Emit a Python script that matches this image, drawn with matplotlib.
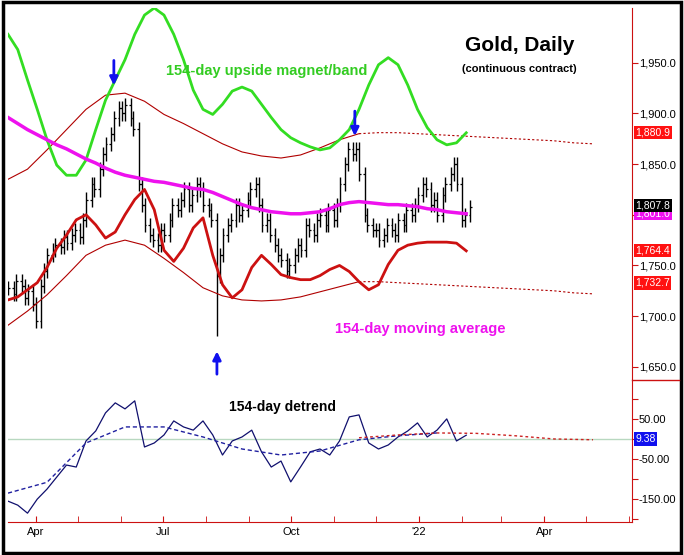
import matplotlib
matplotlib.use("Agg")
import matplotlib.pyplot as plt
import matplotlib.dates as mdates
import pandas as pd

# daily closes, sampled every 2 trading days from 2021-03-12
closes = [1728, 1722, 1735, 1730, 1718, 1725, 1712, 1695, 1730, 1745,
          1760, 1765, 1770, 1768, 1778, 1772, 1780, 1785, 1778, 1795,
          1815, 1830, 1825, 1845, 1860, 1870, 1880, 1895, 1905, 1900,
          1908, 1895, 1885, 1830, 1810, 1790, 1780, 1775, 1770, 1785,
          1780, 1795, 1810, 1805, 1815, 1825, 1810, 1820, 1830, 1825,
          1810, 1805, 1795, 1740, 1760, 1780, 1790, 1795, 1810, 1800,
          1805, 1815, 1825, 1830, 1810, 1790, 1795, 1780, 1770, 1760,
          1755, 1745, 1750, 1760, 1770, 1765, 1790, 1785, 1780, 1795,
          1800, 1790, 1805, 1795, 1810, 1830, 1850, 1865, 1860, 1865,
          1840, 1800, 1790, 1785, 1785, 1775, 1780, 1790, 1785, 1780,
          1795, 1790, 1805, 1800, 1810, 1820, 1830, 1825, 1810, 1815,
          1800, 1820, 1830, 1840, 1850, 1830, 1795, 1800, 1808]
spike_lows = {7: 1688, 53: 1680}

# weekly curves from 2021-03-12
magnet = [1978, 1963, 1933, 1904, 1874, 1849, 1839, 1839, 1854, 1884, 1913, 1933,
          1953, 1978, 1997, 2004, 1997, 1978, 1953, 1923, 1904, 1899, 1909, 1922,
          1926, 1922, 1909, 1896, 1884, 1876, 1871, 1867, 1864, 1866, 1874, 1884,
          1904, 1928, 1948, 1955, 1948, 1928, 1904, 1886, 1874, 1869, 1871, 1880.9]
cycle = [1716, 1719, 1726, 1733, 1748, 1767, 1780, 1795, 1800, 1790, 1777, 1783,
         1800, 1815, 1825, 1805, 1765, 1754, 1767, 1787, 1797, 1760, 1731, 1718,
         1726, 1748, 1760, 1751, 1741, 1738, 1736, 1736, 1740, 1746, 1750, 1744,
         1734, 1726, 1731, 1751, 1765, 1770, 1772, 1773, 1773, 1773, 1772, 1764.4]
ma154 = [1896, 1890, 1884, 1879, 1874, 1869, 1865, 1860, 1855, 1851, 1846, 1842,
         1839, 1837, 1835, 1833, 1832, 1830, 1828, 1826, 1825, 1822, 1818, 1814,
         1810, 1807, 1805, 1803, 1802, 1801, 1801, 1802, 1803, 1806, 1810, 1812,
         1813, 1812, 1811, 1810, 1810, 1809, 1808, 1806, 1805, 1803, 1802, 1801]
detrend = [-155, -165, -185, -150, -125, -95, -65, -70, -5, 20, 65, 90,
           75, 95, -20, -10, 10, 45, 30, 22, 45, 10, -40, -5,
           5, 22, -32, -70, -55, -107, -70, -32, -25, -40, -5, 55,
           60, -10, -25, -15, 5, 20, 40, 5, 22, 50, -5, 9.38]

# 2-weekly envelope, solid through index 18 then projected
env_upper = [1835, 1845, 1864, 1884, 1904, 1918, 1920, 1912, 1899, 1890, 1880, 1870,
             1862, 1858, 1856, 1859, 1866, 1874, 1880, 1881, 1881, 1880, 1879, 1878,
             1877, 1876, 1875, 1874, 1873, 1871, 1870]
env_lower = [1691, 1705, 1721, 1740, 1760, 1770, 1775, 1770, 1757, 1743, 1728, 1720,
             1716, 1715, 1716, 1719, 1724, 1729, 1734, 1734, 1733, 1732, 1731, 1730,
             1729, 1728, 1727, 1726, 1725, 1723, 1722]
SOLID = 19

# 4-weekly smoothed detrend and its projection
detrend_smooth = [-135, -108, -10, 30, 30, 5, -25, -40, -30, -2, 8, 15]
detrend_proj = [3, 10, 15, 14, 8, 0, -2]

d_bars = pd.bdate_range("2021-03-12", periods=len(closes), freq="2B")
d_week = pd.date_range("2021-03-12", periods=len(magnet), freq="7D")
d_env = pd.date_range("2021-03-12", periods=len(env_upper), freq="14D")
d_4w = pd.date_range("2021-03-12", periods=16, freq="28D")

fig = plt.figure(figsize=(6.84, 5.55), dpi=100)
fig.patch.set_facecolor("white")
fig.add_artist(plt.Rectangle((0.004, 0.004), 0.992, 0.992, transform=fig.transFigure,
                             fill=False, ec="black", lw=2.5))
fig.add_artist(plt.Line2D([632 / 684, 679 / 684], [1 - 380 / 555] * 2,
                          color="#cc1111", lw=1))
L, R = 8 / 684, 632 / 684
ax = fig.add_axes([L, 1 - 380 / 555, R - L, (380 - 8) / 555])
ax2 = fig.add_axes([L, 1 - 522 / 555, R - L, (522 - 380) / 555], sharex=ax)

# price bars
prev = closes[0]
for i, (d, c) in enumerate(zip(d_bars, closes)):
    lo = spike_lows.get(i, min(prev, c) - 7)
    hi = max(prev, c) + 7
    x = mdates.date2num(d)
    ax.vlines(x, lo, hi, color="black", lw=1.0)
    ax.hlines(prev, x - 1.3, x, color="black", lw=0.9)
    ax.hlines(c, x, x + 1.3, color="black", lw=0.9)
    prev = c

ax.plot(d_env[:SOLID], env_upper[:SOLID], color="#b00000", lw=0.8)
ax.plot(d_env[:SOLID], env_lower[:SOLID], color="#b00000", lw=0.8)
ax.plot(d_env[SOLID - 1:], env_upper[SOLID - 1:], color="#b00000", lw=0.8, ls=(0, (2, 2)))
ax.plot(d_env[SOLID - 1:], env_lower[SOLID - 1:], color="#b00000", lw=0.8, ls=(0, (2, 2)))
ax.plot(d_week, magnet, color="#33dd22", lw=2)
ax.plot(d_week, ma154, color="#ee11ee", lw=2.5)
ax.plot(d_week, cycle, color="#cc1111", lw=2)

# arrows
for d, y0, y1 in [("2021-05-27", 1955, 1925), ("2021-11-16", 1905, 1875)]:
    ax.annotate("", xy=(pd.Timestamp(d), y1), xytext=(pd.Timestamp(d), y0),
                arrowprops=dict(arrowstyle="-|>", color="#1010ee", lw=2, mutation_scale=12))
ax.annotate("", xy=(pd.Timestamp("2021-08-09"), 1668), xytext=(pd.Timestamp("2021-08-09"), 1640),
            arrowprops=dict(arrowstyle="-|>", color="#1010ee", lw=2, mutation_scale=12))

ax.text(0.82, 0.885, "Gold, Daily", transform=ax.transAxes, ha="center", fontsize=15,
        fontweight="bold", family="Liberation Sans")
ax.text(0.82, 0.828, "(continuous contract)", transform=ax.transAxes, ha="center",
        fontsize=8, fontweight="bold", family="Liberation Sans")
ax.text(0.415, 0.82, "154-day upside magnet/band", transform=ax.transAxes, ha="center",
        fontsize=10.5, fontweight="bold", color="#33cc22", family="Liberation Sans")
ax.text(0.66, 0.125, "154-day moving average", transform=ax.transAxes, ha="center",
        fontsize=10.5, fontweight="bold", color="#ee11ee", family="Liberation Sans")

ax.set_ylim(1637, 2004)
ax.set_yticks([1650, 1700, 1750, 1800, 1850, 1900, 1950])
ax.set_yticklabels(["1,650.0", "1,700.0", "1,750.0", "", "1,850.0", "1,900.0", "1,950.0"])


def tag(a, y, txt, bg, fg="white"):
    a.annotate(txt, xy=(1.005, y), xycoords=("axes fraction", "data"), va="center",
               fontsize=7.5, color=fg, family="Liberation Sans",
               bbox=dict(boxstyle="square,pad=0.15", fc=bg, ec="none"),
               annotation_clip=False)


tag(ax, 1880.9, "1,880.9", "#ff1111")
tag(ax, 1801.0, "1,801.0", "#ee11ee")
tag(ax, 1809.0, "1,807.8", "black")
tag(ax, 1764.4, "1,764.4", "#ff1111")
tag(ax, 1732.7, "1,732.7", "#ff1111")

# detrend panel
ax2.axhline(0, color="#b8d8c0", lw=1)
ax2.plot(d_week, detrend, color="#10106e", lw=0.9)
ax2.plot(d_4w[:len(detrend_smooth)], detrend_smooth, color="#2020a0", lw=1, ls=(0, (3, 2)))
ax2.plot(d_4w[9:], detrend_proj, color="#cc2222", lw=1, ls=(0, (2, 2)))
ax2.text(0.44, 0.78, "154-day detrend", transform=ax2.transAxes, ha="center",
         fontsize=10, fontweight="bold", family="Liberation Sans")
ax2.set_ylim(-207, 147)
ax2.set_yticks([100, 50, 0, -50, -100, -150, -200])
ax2.set_yticklabels(["", "50.00", "", "-50.00", "", "-150.00", ""])
tag(ax2, 0, "9.38", "#1010ee")

for a in (ax, ax2):
    a.yaxis.tick_right()
    for s in ("left", "top"):
        a.spines[s].set_visible(False)
    a.spines["right"].set_color("#cc1111")
    a.spines["bottom"].set_color("#cc1111")
    a.tick_params(axis="y", colors="#cc1111", labelcolor="black", labelsize=8, length=4,
                  direction="out", pad=1)
    for lab in a.get_yticklabels():
        lab.set_family("Liberation Sans")
ax.spines["bottom"].set_visible(False)
ax.tick_params(axis="x", bottom=False, labelbottom=False)

ax2.set_xlim(pd.Timestamp("2021-03-12"), pd.Timestamp("2022-06-03"))
ax2.xaxis.set_major_locator(mdates.MonthLocator(bymonth=[1, 4, 7, 10]))
ax2.xaxis.set_minor_locator(mdates.MonthLocator())
ax2.xaxis.set_major_formatter(plt.FuncFormatter(
    lambda v, p: "'" + mdates.num2date(v).strftime("%y") if mdates.num2date(v).month == 1
    else mdates.num2date(v).strftime("%b")))
ax2.tick_params(axis="x", which="both", colors="#cc1111", labelcolor="black", labelsize=8,
                length=4, direction="in")
for lab in ax2.get_xticklabels():
    lab.set_family("Liberation Sans")

fig.savefig("out.png", dpi=100)
